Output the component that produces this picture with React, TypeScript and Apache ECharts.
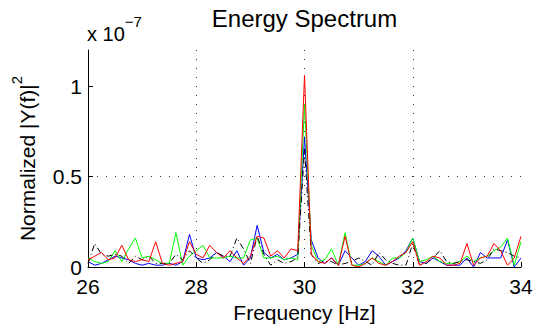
import React, { useEffect, useRef } from "react";
import * as echarts from "echarts";

// Spectrum samples: 26–34 Hz at 0.125 Hz resolution; values in units of 1e-7
const F_START = 26;
const F_STEP = 0.125;
const X_TICKS = [26, 28, 30, 32, 34];
const Y_TICKS = [0, 0.5, 1];
const EXPONENT = -7;

const blue = [
  0.03, 0.01, 0.02, 0.04, 0.06, 0.05, 0.04, 0.02, 0.01, 0.02, 0.01,
  0.01, 0.02, 0.01, 0.03, 0.18, 0.05, 0.04, 0.05, 0.08, 0.06, 0.03,
  0.09, 0.01, 0.05, 0.23, 0.08, 0.05, 0.07, 0.04, 0.05, 0.07, 0.72,
  0.15, 0.05, 0.02, 0.05, 0.01, 0.09, 0.05, 0.01, 0.03, 0.09,
  0.06, 0.01, 0.03, 0.05, 0.09, 0.16, 0.03, 0.02, 0.05, 0.03, 0.01,
  0.01, 0.01, 0.05, 0.0, 0.08, 0.05, 0.05, 0.05, 0.15, 0.0, 0.05,
];

const green = [
  0.05, 0.03, 0.02, 0.03, 0.09, 0.03, 0.1, 0.16, 0.05, 0.06, 0.04,
  0.02, 0.02, 0.19, 0.01, 0.06, 0.09, 0.12, 0.05, 0.05, 0.05, 0.06,
  0.05, 0.05, 0.15, 0.16, 0.05, 0.05, 0.06, 0.04, 0.05, 0.04, 0.9,
  0.12, 0.03, 0.04, 0.1, 0.01, 0.19, 0.01, 0.01, 0.02, 0.05,
  0.03, 0.01, 0.05, 0.05, 0.08, 0.16, 0.03, 0.04, 0.06, 0.03, 0.02,
  0.02, 0.03, 0.06, 0.03, 0.05, 0.06, 0.09, 0.11, 0.16, 0.01, 0.14,
];

const red = [
  0.04, 0.06, 0.08, 0.04, 0.05, 0.12, 0.04, 0.03, 0.04, 0.03, 0.14,
  0.02, 0.01, 0.02, 0.03, 0.14, 0.07, 0.05, 0.12, 0.08, 0.05, 0.09,
  0.05, 0.02, 0.06, 0.17, 0.16, 0.06, 0.09, 0.05, 0.1, 0.09, 1.06,
  0.07, 0.03, 0.02, 0.05, 0.01, 0.17, 0.01, 0.0, 0.02, 0.05,
  0.02, 0.01, 0.03, 0.06, 0.08, 0.14, 0.01, 0.03, 0.06, 0.05, 0.01,
  0.01, 0.02, 0.13, 0.01, 0.05, 0.06, 0.13, 0.09, 0.01, 0.05, 0.17,
];

const black = [
  0.02, 0.13, 0.07, 0.06, 0.07, 0.06, 0.02, 0.06, 0.04, 0.06, 0.02,
  0.02, 0.02, 0.07, 0.04, 0.09, 0.05, 0.02, 0.04, 0.08, 0.06, 0.06,
  0.16, 0.1, 0.02, 0.17, 0.07, 0.01, 0.04, 0.02, 0.03, 0.05, 0.65,
  0.07, 0.02, 0.03, 0.03, 0.01, 0.02, 0.03, 0.05, 0.03, 0.01,
  0.08, 0.04, 0.02, 0.01, 0.01, 0.13, 0.01, 0.02, 0.05, 0.09, 0.03,
  0.02, 0.03, 0.04, 0.03, 0.02, 0.04, 0.1, 0.09, 0.08, 0.06, 0.05,
];

const freq = blue.map((_, i) => F_START + i * F_STEP);

const FONT = "Liberation Sans, Arial, Helvetica, sans-serif";

const WIDTH = 536;
const HEIGHT = 328;
const GRID = { left: 88, right: 15, top: 50, bottom: 61 };

function lineSeries(name: string, values: number[], color: string, dash?: number[]) {
  return {
    name,
    type: "line",
    data: values.map((v, i) => [freq[i], v]),
    showSymbol: false,
    symbol: "none",
    lineStyle: { color, width: 1, type: dash ?? "solid" },
    itemStyle: { color },
    emphasis: { disabled: true },
    silent: true,
  };
}

export default function App() {
  const ref = useRef<HTMLDivElement>(null);

  useEffect(() => {
    document.body.style.margin = "0";
    if (!ref.current) return;
    const chart = echarts.init(ref.current, undefined, { renderer: "svg" });
    const plotCenterX = GRID.left + (WIDTH - GRID.left - GRID.right) / 2;
    const plotCenterY = GRID.top + (HEIGHT - GRID.top - GRID.bottom) / 2;

    chart.setOption({
      animation: false,
      backgroundColor: "#fff",
      textStyle: { fontFamily: FONT, color: "#000" },
      grid: { ...GRID, containLabel: false, outerBoundsMode: "none" },
      xAxis: {
        type: "value",
        min: X_TICKS[0],
        max: X_TICKS[X_TICKS.length - 1],
        interval: 2,
        axisLine: { show: true, lineStyle: { color: "#000", width: 1 } },
        axisTick: { show: true, inside: true, length: 5, lineStyle: { color: "#000" } },
        axisLabel: { color: "#000", fontSize: 21, fontFamily: FONT, margin: 9 },
        splitLine: {
          show: true,
          showMinLine: false,
          showMaxLine: false,
          lineStyle: { color: "#333", width: 1, type: [1, 8] },
        },
      },
      yAxis: {
        type: "value",
        min: 0,
        max: 1.2,
        interval: 0.5,
        axisLine: { show: true, lineStyle: { color: "#000", width: 1 } },
        axisTick: {
          show: true,
          inside: true,
          length: 5,
          customValues: Y_TICKS,
          lineStyle: { color: "#000" },
        },
        axisLabel: {
          color: "#000",
          fontSize: 21,
          fontFamily: FONT,
          margin: 6,
          customValues: Y_TICKS,
          formatter: (v: number) => String(v),
        },
        splitLine: {
          show: true,
          showMinLine: false,
          showMaxLine: false,
          lineStyle: { color: "#333", width: 1, type: [1, 8] },
        },
      },
      series: [
        lineSeries("s1", blue, "#0000ff"),
        lineSeries("s2", green, "#00ff00"),
        lineSeries("s4", black, "#000000", [6, 3, 1, 3]),
        lineSeries("s3", red, "#ff0000"),
      ],
      graphic: [
        {
          type: "text",
          x: plotCenterX,
          y: 18,
          style: {
            text: "Energy Spectrum",
            fill: "#000",
            font: `24px ${FONT}`,
            align: "center",
            verticalAlign: "middle",
          },
        },
        {
          type: "text",
          x: plotCenterX,
          y: 312,
          style: {
            text: "Frequency [Hz]",
            fill: "#000",
            font: `21px ${FONT}`,
            align: "center",
            verticalAlign: "middle",
          },
        },
        {
          type: "text",
          x: 27,
          y: plotCenterY,
          rotation: Math.PI / 2,
          style: {
            text: "{a|Normalized |Y(f)|}{s|2}",
            fill: "#000",
            fontFamily: FONT,
            align: "center",
            verticalAlign: "middle",
            rich: {
              a: { fontSize: 21, lineHeight: 36, verticalAlign: "middle", fontFamily: FONT, fill: "#000" },
              s: { fontSize: 15, lineHeight: 18, verticalAlign: "top", fontFamily: FONT, fill: "#000" },
            },
          },
        },
        {
          type: "text",
          x: 87,
          y: 14,
          style: {
            text: `{a|x 10}{s|\u2212${Math.abs(EXPONENT)}}`,
            fill: "#000",
            fontFamily: FONT,
            align: "left",
            verticalAlign: "top",
            rich: {
              a: { fontSize: 20, lineHeight: 40, verticalAlign: "middle", fontFamily: FONT, fill: "#000" },
              s: { fontSize: 15, lineHeight: 22, verticalAlign: "top", fontFamily: FONT, fill: "#000" },
            },
          },
        },
      ],
    });

    return () => chart.dispose();
  }, []);

  return <div ref={ref} style={{ width: WIDTH, height: HEIGHT }} />;
}
